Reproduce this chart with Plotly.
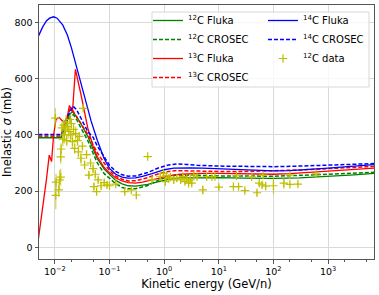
import plotly.graph_objects as go

# ---------------- data ----------------
c12_fluka_E = [0.005, 0.013, 0.016, 0.019, 0.021, 0.025, 0.03, 0.04, 0.05, 0.06, 0.08, 0.1, 0.13, 0.17,
               0.22, 0.3, 0.5, 0.8, 1.2, 2, 4, 10, 30, 100, 300, 1000, 3000, 7000]
c12_fluka = [390, 390, 440, 475, 483, 465, 440, 395, 350, 315, 278, 258, 238, 226,
             219, 218, 224, 234, 242, 247, 248, 248, 246, 245, 247, 252, 258, 263]

c12_crosec_E = [0.005, 0.013, 0.016, 0.02, 0.022, 0.025, 0.03, 0.04, 0.05, 0.06, 0.08, 0.1, 0.13, 0.17,
                0.22, 0.3, 0.5, 0.8, 1.2, 1.7, 2.5, 4, 10, 30, 100, 300, 1000, 3000, 7000]
c12_crosec = [392, 392, 440, 470, 472, 455, 425, 380, 335, 300, 262, 246, 226, 213,
              208, 208, 220, 240, 252, 257, 257, 256, 254, 253, 253, 256, 260, 264, 267]

c13_fluka_E = [0.005, 0.006, 0.007, 0.0079, 0.0087, 0.0095, 0.0105, 0.012, 0.0145, 0.0165, 0.0185, 0.021,
               0.0238, 0.03, 0.04, 0.05, 0.06, 0.08, 0.1, 0.13, 0.17, 0.22, 0.3, 0.4, 0.6, 1, 1.5, 2, 3,
               5, 10, 20, 50, 100, 200, 500, 1000, 3000, 7000]
c13_fluka = [30, 140, 240, 328, 305, 400, 455, 462, 445, 455, 505, 482,
             634, 545, 425, 360, 322, 284, 265, 247, 236, 230, 228, 232, 240, 252, 258, 260, 262,
             263, 263, 262, 260, 260, 262, 267, 273, 279, 282]

c13_crosec_E = [0.005, 0.013, 0.016, 0.019, 0.021, 0.03, 0.04, 0.05, 0.06, 0.08, 0.1, 0.13, 0.17, 0.22,
                0.3, 0.5, 0.8, 1.2, 1.7, 2.5, 4, 10, 30, 100, 300, 1000, 3000, 7000]
c13_crosec = [396, 396, 450, 492, 488, 440, 402, 366, 336, 300, 273, 253, 242, 236,
              237, 248, 262, 270, 273, 272, 271, 270, 270, 272, 275, 280, 285, 288]

c14_fluka_E = [0.005, 0.006, 0.007, 0.008, 0.0095, 0.011, 0.014, 0.017, 0.02, 0.026, 0.035, 0.046, 0.06,
               0.08, 0.1, 0.13, 0.17, 0.22, 0.3, 0.4, 0.6, 1, 1.5, 2, 3, 5, 10, 20, 50, 100, 200,
               500, 1000, 3000, 7000]
c14_fluka = [752, 785, 806, 816, 821, 816, 791, 755, 712, 628, 540, 450, 380,
             315, 281, 260, 250, 246, 247, 252, 262, 276, 282, 283, 283, 282, 280, 277, 273, 272, 273,
             277, 282, 289, 294]

c14_crosec_E = [0.005, 0.013, 0.016, 0.0195, 0.0214, 0.025, 0.03, 0.04, 0.05, 0.06, 0.08, 0.1, 0.13,
                0.17, 0.22, 0.3, 0.5, 0.8, 1.2, 1.7, 2.5, 4, 10, 30, 100, 300, 1000, 3000, 7000]
c14_crosec = [402, 402, 455, 492, 503, 490, 458, 412, 392, 360, 322, 292, 270,
              258, 253, 254, 266, 283, 293, 297, 295, 292, 289, 287, 287, 289, 293, 296, 298]

data_E = [0.0102, 0.0104, 0.0105, 0.0118, 0.0122, 0.0128, 0.0128, 0.013, 0.0135, 0.014, 0.0145, 0.015,
          0.0155, 0.016, 0.0165, 0.017, 0.018, 0.019, 0.0195, 0.02, 0.021, 0.022, 0.023, 0.024, 0.026,
          0.027, 0.028, 0.03, 0.032, 0.033, 0.035, 0.038, 0.042, 0.045, 0.05, 0.052, 0.055, 0.058, 0.062,
          0.07, 0.08, 0.09, 0.1, 0.13, 0.19, 0.25, 0.31, 0.5, 0.6, 0.85, 0.97, 1.05, 1.1, 1.2, 1.3, 1.5,
          1.7, 2.0, 2.2, 2.4, 2.6, 2.8, 3.0, 3.2, 3.5, 4.0, 5.1, 6.0, 7.5, 8.5, 10, 18.5, 21, 23, 30, 40,
          50, 55, 62, 65, 72, 100, 155, 200, 200, 280, 600]
data_sigma = [460, 185, 232, 204, 240, 250, 322, 350, 425, 385, 435, 400,
              418, 447, 380, 430, 412, 455, 400, 440, 376, 420, 352, 405, 380,
              340, 395, 317, 360, 495, 293, 330, 257, 300, 280, 216, 260, 198, 240,
              219, 230, 222, 219, 225, 198, 204, 186, 323, 240, 251, 263, 234, 255, 245, 250, 240,
              246, 240, 252, 234, 245, 228, 240, 228, 257, 251, 204, 251, 251, 252, 214, 216, 254, 216, 202, 251,
              194, 228, 222, 257, 218, 219, 228, 257, 224, 225, 261]
data_err = [35, 50, 30, 25, 35, 30, 25, 20, 20, 25, 20, 30,
            20, 25, 20, 20, 25, 15, 20, 20, 25, 20, 20, 25, 20,
            20, 15, 20, 15, 10, 15, 15, 15, 15, 15, 12, 12, 12, 10,
            10, 10, 10, 10, 8, 10, 8, 12, 4, 10, 15, 10, 15, 10, 10, 10, 10,
            12, 10, 10, 10, 10, 10, 10, 10, 10, 8, 15, 6, 6, 5, 8, 6, 8, 6, 8, 6,
            10, 8, 12, 6, 12, 30, 20, 6, 6, 6, 8]

x_tickvals = [0.01, 0.1, 1, 10, 100, 1000]
x_ticktext = ["10<sup>\u22122</sup>", "10<sup>\u22121</sup>", "10<sup>0</sup>", "10<sup>1</sup>",
              "10<sup>2</sup>", "10<sup>3</sup>"]
y_tickvals = [0, 200, 400, 600, 800]

# ---------------- figure ----------------
GREEN, RED, BLUE, YEL = "#008000", "#ff0000", "#0000ff", "#bfbf00"
DASH = "4px,2px"
LW_SOLID = 1.3
LW_DASH = 1.5

fig = go.Figure()

def line(E, y, name, color, dash="solid", legend="legend"):
    fig.add_trace(go.Scatter(x=E, y=y, mode="lines", name=name, legend=legend,
                             line=dict(color=color, dash=dash,
                                       width=LW_SOLID if dash == "solid" else LW_DASH)))

line(c12_fluka_E, c12_fluka, "<sup>12</sup>C Fluka", GREEN)
line(c12_crosec_E, c12_crosec, "<sup>12</sup>C CROSEC", GREEN, DASH)
line(c13_fluka_E, c13_fluka, "<sup>13</sup>C Fluka", RED)
line(c13_crosec_E, c13_crosec, "<sup>13</sup>C CROSEC", RED, DASH)
line(c14_fluka_E, c14_fluka, "<sup>14</sup>C Fluka", BLUE, legend="legend2")
line(c14_crosec_E, c14_crosec, "<sup>14</sup>C CROSEC", BLUE, DASH, legend="legend2")
fig.add_trace(go.Scatter(
    x=data_E, y=data_sigma, mode="markers", name="<sup>12</sup>C data", legend="legend2",
    marker=dict(symbol="cross-thin", size=6, color=YEL, line=dict(color=YEL, width=1.2)),
    error_y=dict(type="data", array=data_err, color="rgba(191,191,0,0.7)", thickness=1.2, width=0),
))

L, R, T, B = 39, 5, 5, 36
PW, PH = 379 - L - R, 295 - T - B

def px_x(p):
    return (p - L) / PW

def px_y(p):
    return 1 - (p - T) / PH

leg_common = dict(
    orientation="v", xanchor="left", yanchor="top",
    bgcolor="rgba(0,0,0,0)", borderwidth=0,
    font=dict(size=10, family="DejaVu Sans", color="black"),
    itemwidth=30, tracegroupgap=0,
)

fig.update_layout(
    width=379, height=295,
    margin=dict(l=L, r=R, t=T, b=B),
    paper_bgcolor="white", plot_bgcolor="white",
    font=dict(family="DejaVu Sans", size=9, color="black"),
    showlegend=True,
    legend=dict(x=px_x(148), y=px_y(6), **leg_common),
    legend2=dict(x=px_x(263), y=px_y(6), **leg_common),
    shapes=[dict(type="rect", xref="paper", yref="paper", layer="above",
                 x0=px_x(152), x1=px_x(369), y0=px_y(87), y1=px_y(12),
                 line=dict(color="#d8d8d8", width=1), fillcolor="rgba(255,255,255,0.8)")],
    xaxis=dict(
        type="log", range=[-2.29, 3.84], automargin=False,
        tickvals=x_tickvals, ticktext=x_ticktext, tickfont=dict(size=9.5),
        showgrid=True, gridcolor="#d9d9d9", gridwidth=1,
        showline=True, linecolor="#555555", linewidth=1, mirror=True,
        ticks="outside", ticklen=3.5, tickcolor="#555555",
        minor=dict(ticks="outside", ticklen=2, tickcolor="#555555", showgrid=False),
        title=dict(text="Kinetic energy (GeV/n)", font=dict(size=11.5), standoff=2),
        zeroline=False,
    ),
    yaxis=dict(
        range=[-42, 863], automargin=False,
        tickvals=y_tickvals, tickfont=dict(size=9.5),
        showgrid=True, gridcolor="#d9d9d9", gridwidth=1,
        showline=True, linecolor="#555555", linewidth=1, mirror=True,
        ticks="outside", ticklen=3.5, tickcolor="#555555",
        title=dict(text="Inelastic <i>\u03c3</i> (mb)", font=dict(size=11.5), standoff=5),
        zeroline=False,
    ),
)

fig.write_html("out.html", config={"displayModeBar": False},
               post_script="document.body.style.margin='0';")
